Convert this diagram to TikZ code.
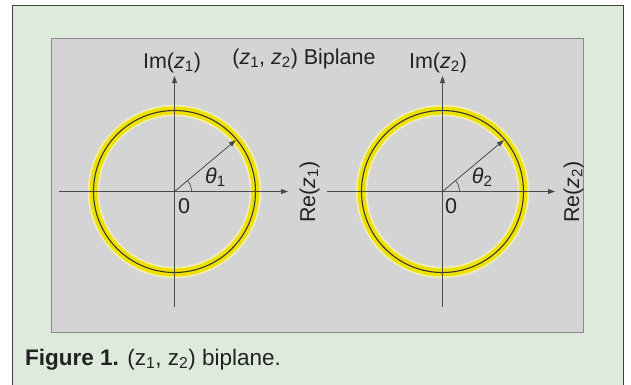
\documentclass[tikz,border=0pt]{standalone}
\usepackage{fontspec}
\setmainfont{Liberation Sans}
\usetikzlibrary{arrows.meta,calc}
\definecolor{outerbg}{HTML}{DDEADC}
\definecolor{outerln}{HTML}{404040}
\definecolor{innerbg}{HTML}{D4D4D4}
\definecolor{innerln}{HTML}{8A8A8A}
\definecolor{axc}{HTML}{4A4A4A}
\definecolor{txt}{HTML}{222222}
\definecolor{halo}{HTML}{EFEDB8}
\definecolor{ring}{HTML}{EEE100}
\definecolor{ringln}{HTML}{3A3A30}
\begin{document}
\begin{tikzpicture}[x=1pt,y=-1pt,
  lbl/.style={font=\fontsize{21.5}{25}\selectfont, text=txt, inner sep=0pt},
  axisln/.style={draw=axc, line width=0.9pt},
  axarrow/.style={axisln, -{Triangle[length=7pt,width=5pt]}},
  radarrow/.style={draw=axc, line width=0.8pt, -{Triangle[length=7pt,width=5pt]}},
]
\useasboundingbox (0,0) rectangle (631,384);
% frames
\path[fill=outerbg, draw=outerln, line width=1.5pt] (12.5,5.7) rectangle (623.3,395);
\path[fill=innerbg, draw=innerln, line width=1.2pt] (51.7,38.3) rectangle (583.3,332.7);

% centres and axis ends
\coordinate (c1) at (174.5,191.5);
\coordinate (c2) at (442.5,191.5);
\coordinate (h1s) at (59,191.5);
\coordinate (h1e) at (288,191.5);
\coordinate (v1s) at (174.5,307);
\coordinate (v1e) at (174.5,76);
\coordinate (h2s) at (327,191.5);
\coordinate (h2e) at (555,191.5);
\coordinate (v2s) at (442.5,307);
\coordinate (v2e) at (442.5,76);
\coordinate (r1) at (235.8,140.1);
\coordinate (r2) at (503.8,140.1);

% rings
\foreach \c in {c1,c2}{
  \draw[halo, line width=11.5pt] (\c) circle[radius=81];
  \draw[ring, line width=8pt] (\c) circle[radius=81];
  \draw[ringln, line width=1.1pt] (\c) circle[radius=81];
}

% axes
\draw[axarrow] (h1s) -- (h1e);
\draw[axarrow] (v1s) -- (v1e);
\draw[axarrow] (h2s) -- (h2e);
\draw[axarrow] (v2s) -- (v2e);

% radii
\draw[radarrow] (c1) -- (r1);
\draw[radarrow] (c2) -- (r2);
% angle arcs
\draw[axc, line width=0.7pt] ($(c1)+(17,0)$) arc[start angle=0, end angle=-40, radius=17];
\draw[axc, line width=0.7pt] ($(c2)+(17,0)$) arc[start angle=0, end angle=-40, radius=17];

% labels
\node[lbl, anchor=base] (title) at (304,64) {(\textit{z}\textsubscript{1}, \textit{z}\textsubscript{2}) Biplane};
\node[lbl, anchor=base] (im1) at (172,68) {Im(\textit{z}\textsubscript{1})};
\node[lbl, anchor=base] (im2) at (438,68) {Im(\textit{z}\textsubscript{2})};
\node[lbl, anchor=base west, rotate=90] (re1) at (315,223) {Re(\textit{z}\textsubscript{1})};
\node[lbl, anchor=base west, rotate=90] (re2) at (579,223) {Re(\textit{z}\textsubscript{2})};
\node[lbl, anchor=base] (o1) at (184,213) {0};
\node[lbl, anchor=base] (o2) at (451,213) {0};
\node[lbl, anchor=base west] (t1) at (205,183) {\textit{θ}\textsubscript{1}};
\node[lbl, anchor=base west] (t2) at (471.7,183) {\textit{θ}\textsubscript{2}};
\node[lbl, font=\fontsize{22.5}{26}\selectfont, anchor=base west] (cap) at (25,365) {\textbf{Figure 1.} (z\textsubscript{1}, z\textsubscript{2}) biplane.};
\end{tikzpicture}
\end{document}
